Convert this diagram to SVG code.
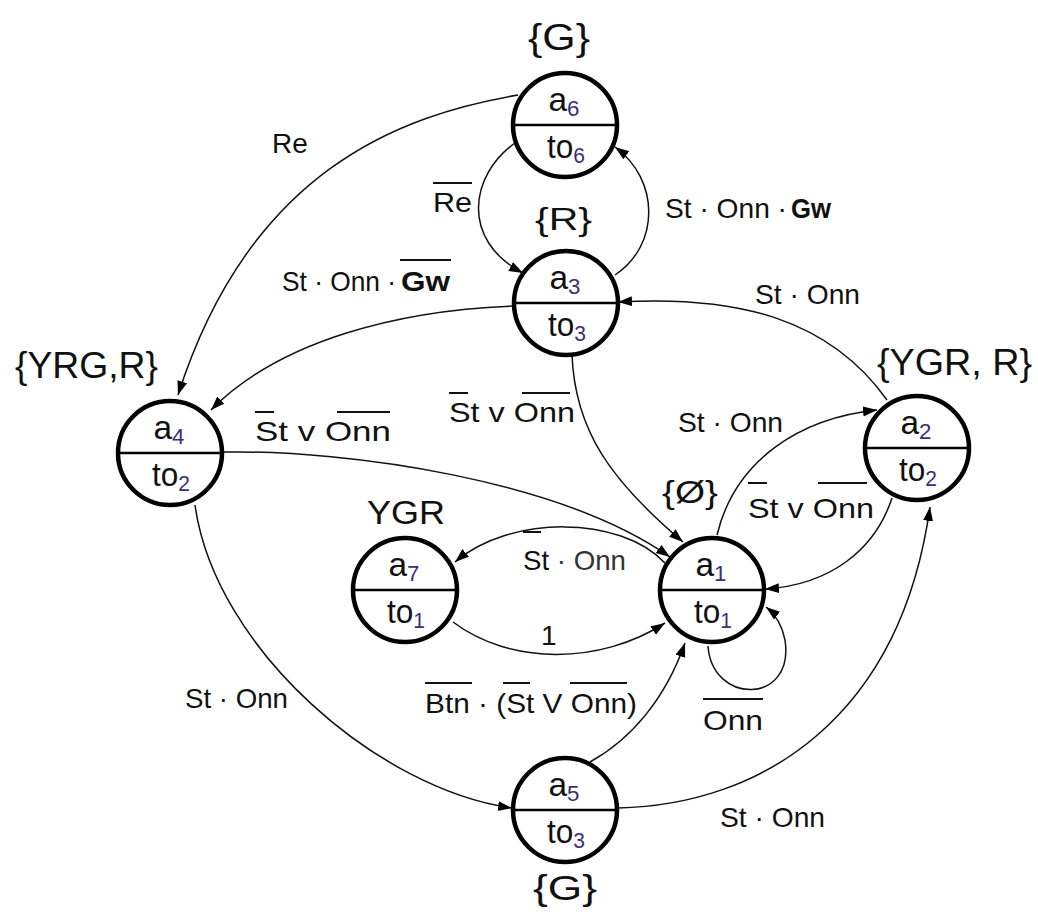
<svg xmlns="http://www.w3.org/2000/svg" width="1038" height="912" viewBox="0 0 1038 912">
<style>
.node circle{fill:#fff;stroke:#000;stroke-width:4.5}
.node line{stroke:#000;stroke-width:2.5}
.nt{font-family:"Liberation Sans",Arial,sans-serif;font-size:33px;fill:#111;text-anchor:middle}
.sub{font-size:22px;fill:#3d2d7a}
.set{font-family:"Liberation Sans",Arial,sans-serif;fill:#111}
.lbl{font-family:"Liberation Sans",Arial,sans-serif;font-size:28px;fill:#111}
.ov{stroke:#111;stroke-width:2}
.edges path{fill:none;stroke:#111;stroke-width:1.5;marker-end:url(#ah)}
</style>
<defs>
<marker id="ah" markerUnits="userSpaceOnUse" markerWidth="16" markerHeight="12" refX="14" refY="5" orient="auto">
<path d="M0,0 L14,5 L0,10 z" fill="#000"/>
</marker>
</defs>
<rect width="1038" height="912" fill="#fff"/>

<g class="edges" id="connectors">
<path d="M518,95 C400,115 250,170 178,395"/>
<path d="M515,143 C470,175 460,240 523,273"/>
<path d="M615,275 C660,245 660,180 615,147"/>
<path d="M514,306 C400,310 280,340 211,410"/>
<path d="M887,400 C830,320 740,295 618,302"/>
<path d="M572,355 C575,430 610,480 683,542"/>
<path d="M223,452 C350,450 560,480 670,557"/>
<path d="M717,535 C735,460 800,418 877,410"/>
<path d="M892,498 C875,550 830,585 765,589"/>
<path d="M665,563 C620,515 510,515 455,562"/>
<path d="M453,622 C510,665 600,665 665,623"/>
<path d="M708,646 C712,705 795,705 785,640 C782,625 775,614 766,607"/>
<path d="M590,762 C630,740 665,700 685,643"/>
<path d="M195,505 C215,650 380,790 512,808"/>
<path d="M618,808 C760,805 900,720 930,507"/>
</g>

<g id="a6" class="node">
<circle cx="565" cy="125" r="52"/><line x1="513" y1="125" x2="617" y2="125"/>
<text class="nt" x="564" y="111" textLength="31" lengthAdjust="spacingAndGlyphs">a<tspan class="sub" dy="5">6</tspan></text>
<text class="nt" x="566" y="158" textLength="38" lengthAdjust="spacingAndGlyphs">to<tspan class="sub" dy="5">6</tspan></text>
</g>
<g id="a3" class="node">
<circle cx="566" cy="303" r="52"/><line x1="514" y1="303" x2="618" y2="303"/>
<text class="nt" x="565" y="289" textLength="31" lengthAdjust="spacingAndGlyphs">a<tspan class="sub" dy="5">3</tspan></text>
<text class="nt" x="567" y="336" textLength="38" lengthAdjust="spacingAndGlyphs">to<tspan class="sub" dy="5">3</tspan></text>
</g>
<g id="a4" class="node">
<circle cx="170" cy="453" r="52"/><line x1="118" y1="453" x2="222" y2="453"/>
<text class="nt" x="169" y="439" textLength="31" lengthAdjust="spacingAndGlyphs">a<tspan class="sub" dy="5">4</tspan></text>
<text class="nt" x="171" y="486" textLength="38" lengthAdjust="spacingAndGlyphs">to<tspan class="sub" dy="5">2</tspan></text>
</g>
<g id="a7" class="node">
<circle cx="405" cy="590" r="52"/><line x1="353" y1="590" x2="457" y2="590"/>
<text class="nt" x="404" y="576" textLength="31" lengthAdjust="spacingAndGlyphs">a<tspan class="sub" dy="5">7</tspan></text>
<text class="nt" x="406" y="623" textLength="38" lengthAdjust="spacingAndGlyphs">to<tspan class="sub" dy="5">1</tspan></text>
</g>
<g id="a1" class="node">
<circle cx="712" cy="590" r="52"/><line x1="660" y1="590" x2="764" y2="590"/>
<text class="nt" x="711" y="576" textLength="31" lengthAdjust="spacingAndGlyphs">a<tspan class="sub" dy="5">1</tspan></text>
<text class="nt" x="713" y="623" textLength="38" lengthAdjust="spacingAndGlyphs">to<tspan class="sub" dy="5">1</tspan></text>
</g>
<g id="a2" class="node">
<circle cx="917" cy="448" r="52"/><line x1="865" y1="448" x2="969" y2="448"/>
<text class="nt" x="916" y="434" textLength="31" lengthAdjust="spacingAndGlyphs">a<tspan class="sub" dy="5">2</tspan></text>
<text class="nt" x="918" y="481" textLength="38" lengthAdjust="spacingAndGlyphs">to<tspan class="sub" dy="5">2</tspan></text>
</g>
<g id="a5" class="node">
<circle cx="565" cy="810" r="52"/><line x1="513" y1="810" x2="617" y2="810"/>
<text class="nt" x="564" y="796" textLength="31" lengthAdjust="spacingAndGlyphs">a<tspan class="sub" dy="5">5</tspan></text>
<text class="nt" x="566" y="843" textLength="38" lengthAdjust="spacingAndGlyphs">to<tspan class="sub" dy="5">3</tspan></text>
</g>

<g id="sets">
<text class="set" x="528" y="50" font-size="36" textLength="62" lengthAdjust="spacingAndGlyphs">{G}</text>
<text class="set" x="535" y="230" font-size="32" textLength="57" lengthAdjust="spacingAndGlyphs">{R}</text>
<text class="set" x="15" y="378" font-size="37" textLength="143" lengthAdjust="spacingAndGlyphs">{YRG,R}</text>
<text class="set" x="877" y="375" font-size="37" textLength="155" lengthAdjust="spacingAndGlyphs">{YGR, R}</text>
<text class="set" x="662" y="503" font-size="32" textLength="56" lengthAdjust="spacingAndGlyphs">{Ø}</text>
<text class="set" x="367" y="524" font-size="33" textLength="78" lengthAdjust="spacingAndGlyphs">YGR</text>
<text class="set" x="533" y="900" font-size="35" textLength="64" lengthAdjust="spacingAndGlyphs">{G}</text>
</g>

<g id="labels">
<text class="lbl" x="272" y="153" font-size="30">Re</text>

<text class="lbl" x="433" y="212" font-size="27" textLength="39" lengthAdjust="spacingAndGlyphs">Re</text>
<line class="ov" x1="433" y1="183" x2="472" y2="183"/>

<text class="lbl" x="665" y="218" textLength="122" lengthAdjust="spacingAndGlyphs">St · Onn ·</text>
<text class="lbl" x="791" y="218" font-weight="bold" textLength="40" lengthAdjust="spacingAndGlyphs">Gw</text>

<text class="lbl" x="282" y="291" textLength="114" lengthAdjust="spacingAndGlyphs">St · Onn ·</text>
<text class="lbl" x="401" y="291" font-weight="bold" textLength="49" lengthAdjust="spacingAndGlyphs">Gw</text>
<line class="ov" x1="400" y1="260" x2="451" y2="260"/>

<text class="lbl" x="755" y="304" textLength="105" lengthAdjust="spacingAndGlyphs">St · Onn</text>

<text class="lbl" x="449" y="422" font-size="31" textLength="126" lengthAdjust="spacingAndGlyphs">St v Onn</text>
<line class="ov" x1="449" y1="393" x2="468" y2="393"/>
<line class="ov" x1="522" y1="393" x2="570" y2="393"/>

<text class="lbl" x="255" y="441" font-size="31" textLength="136" lengthAdjust="spacingAndGlyphs">St v Onn</text>
<line class="ov" x1="255" y1="412" x2="274" y2="412"/>
<line class="ov" x1="337" y1="412" x2="390" y2="412"/>

<text class="lbl" x="678" y="432" textLength="105" lengthAdjust="spacingAndGlyphs">St · Onn</text>

<text class="lbl" x="748" y="518" font-size="31" textLength="126" lengthAdjust="spacingAndGlyphs">St v Onn</text>
<line class="ov" x1="748" y1="483" x2="767" y2="483"/>
<line class="ov" x1="818" y1="483" x2="867" y2="483"/>

<text class="lbl" x="523" y="570" textLength="103" lengthAdjust="spacingAndGlyphs">St<tspan fill="#333"> · Onn</tspan></text>
<line class="ov" x1="523" y1="532" x2="541" y2="532"/>

<text class="lbl" x="541" y="645" font-size="37">1</text>

<text class="lbl" x="703" y="730" font-size="30" textLength="60" lengthAdjust="spacingAndGlyphs">Onn</text>
<line class="ov" x1="703" y1="699" x2="763" y2="699"/>

<text class="lbl" x="425" y="713" textLength="212" lengthAdjust="spacingAndGlyphs">Btn · (St V Onn)</text>
<line class="ov" x1="425" y1="683" x2="472" y2="683"/>
<line class="ov" x1="503" y1="683" x2="530" y2="683"/>
<line class="ov" x1="570" y1="683" x2="627" y2="683"/>

<text class="lbl" x="185" y="708" textLength="103" lengthAdjust="spacingAndGlyphs">St · Onn</text>
<text class="lbl" x="720" y="827" textLength="105" lengthAdjust="spacingAndGlyphs">St · Onn</text>
</g>
</svg>
